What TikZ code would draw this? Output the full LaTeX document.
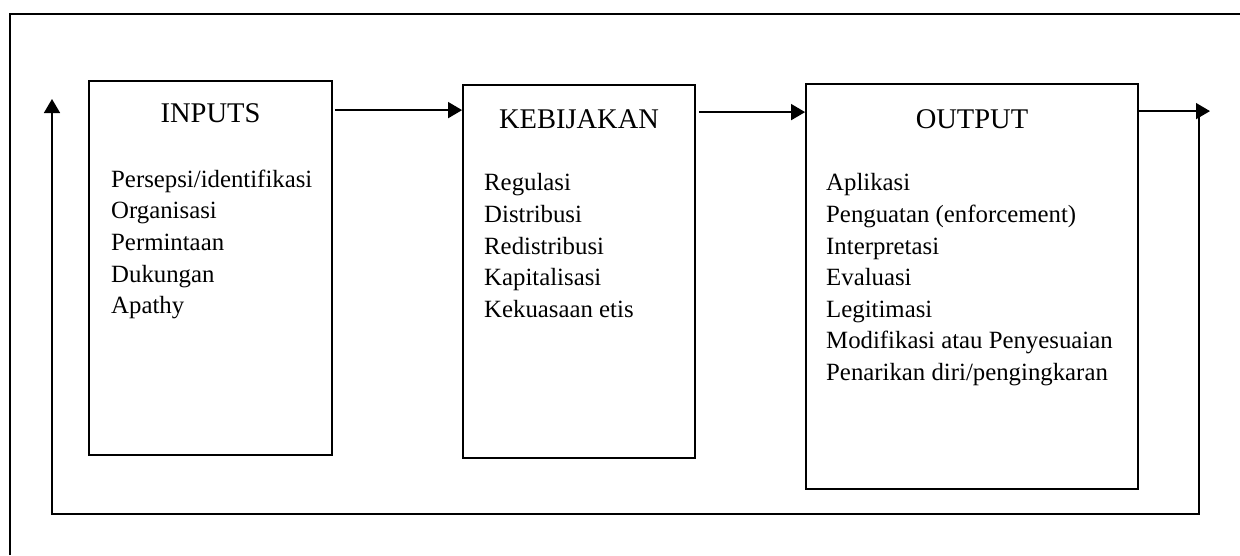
\documentclass[tikz,border=0pt]{standalone}
\usepackage{fontspec}
\setmainfont{Liberation Serif}
\usetikzlibrary{arrows.meta}
\begin{document}
\begin{tikzpicture}[x=1pt,y=-1pt,
  boxstyle/.style={draw=black, line width=1.8pt, inner sep=0pt},
  titlestyle/.style={font=\fontsize{28.5}{32}\selectfont, inner sep=0pt, anchor=base},
  liststyle/.style={font=\fontsize{24.8}{31.6}\selectfont, inner sep=0pt, anchor=north west, align=left},
  conn/.style={line width=1.6pt},
  arr/.style={conn, -{Triangle[length=14pt,width=16pt]}}]
\useasboundingbox (0,0) rectangle (1240,555);
% outer frame (cropped at right and bottom)
\draw[line width=2pt] (10,555) -- (10,14) -- (1240,14);
% boxes
\node[boxstyle, minimum width=243pt, minimum height=374pt] (inputs) at (210.5,268) {};
\node[boxstyle, minimum width=232pt, minimum height=373pt] (kebijakan) at (579,271.5) {};
\node[boxstyle, minimum width=332pt, minimum height=405pt] (output) at (972,286.5) {};
% titles
\node[titlestyle] (tin) at (210.5,122) {INPUTS};
\node[titlestyle] (tkb) at (579,128) {KEBIJAKAN};
\node[titlestyle] (tout) at (972,128) {OUTPUT};
% lists
\node[liststyle] (lin) at (111,167) {\rule{0pt}{20pt}Persepsi/identifikasi\\Organisasi\\Permintaan\\Dukungan\\Apathy};
\node[liststyle] (lkb) at (484,170.7) {\rule{0pt}{20pt}Regulasi\\Distribusi\\Redistribusi\\Kapitalisasi\\Kekuasaan etis};
\node[liststyle] (lout) at (826,170.7) {\rule{0pt}{20pt}Aplikasi\\Penguatan (enforcement)\\Interpretasi\\Evaluasi\\Legitimasi\\Modifikasi atau Penyesuaian\\Penarikan diri/pengingkaran};
% connectors
\draw[arr] ([yshift=-30pt,xshift=2pt]inputs.north east) -- ([yshift=-30pt]inputs.north east -| kebijakan.west);
\draw[arr] ([yshift=-28pt,xshift=3pt]kebijakan.north east) -- ([yshift=-28pt]kebijakan.north east -| output.west);
\coordinate (a3) at ([yshift=-28pt]output.north east);
\coordinate (tipR) at (a3 -| 1210,0);
\coordinate (fr) at (a3 -| 1199,0);
\coordinate (fb) at (1199,514);
\coordinate (fl) at (52,514);
\coordinate (tipL) at (52,99);
\draw[arr] (a3) -- (tipR);
\draw[arr, line join=miter] (fr) -- (fb) -- (fl) -- (tipL);
\end{tikzpicture}
\end{document}
